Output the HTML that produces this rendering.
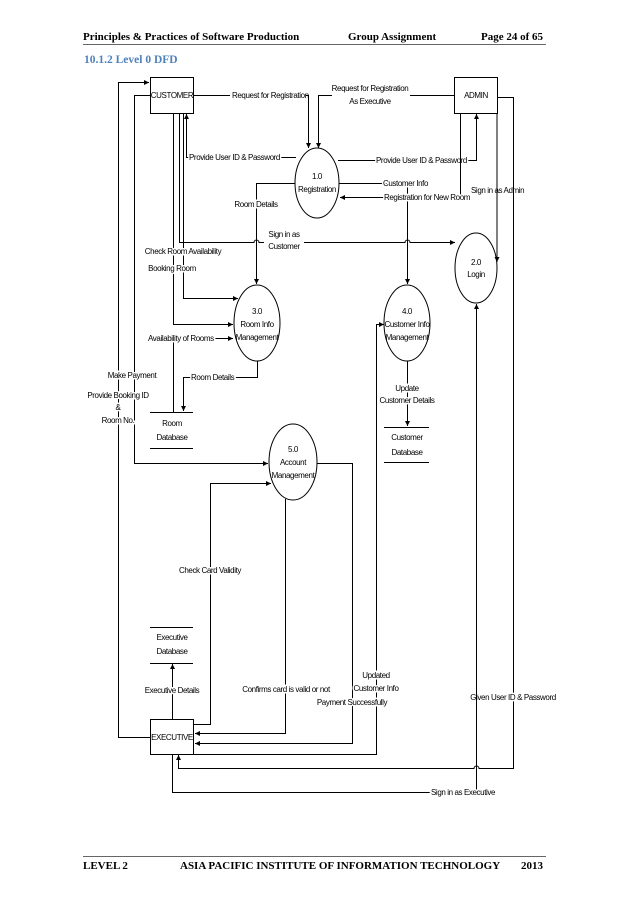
<!DOCTYPE html>
<html><head><meta charset="utf-8"><style>
html,body{margin:0;padding:0;background:#fff;}
svg{display:block;}
.h{font-family:"Liberation Serif",serif;font-weight:bold;font-size:11px;fill:#000;}
.t{font-family:"Liberation Sans",sans-serif;font-size:8px;fill:#000;letter-spacing:-0.4px;}
.l{stroke:#000;stroke-width:1;fill:none;}
</style></head><body>
<svg width="638" height="903" viewBox="0 0 638 903" xmlns="http://www.w3.org/2000/svg">
<defs><marker id="a" viewBox="0 0 10 10" refX="10" refY="5" markerWidth="5" markerHeight="5" orient="auto"><path d="M0,0 L10,5 L0,10 z" fill="#000"/></marker></defs>
<text class="h" x="83" y="40">Principles &amp; Practices of Software Production</text>
<text class="h" x="348" y="40">Group Assignment</text>
<text class="h" x="543" y="40" text-anchor="end">Page 24 of 65</text>
<line x1="83" y1="44.5" x2="546" y2="44.5" stroke="#666" stroke-width="1"/>
<text x="84" y="63" style="font-family:'Liberation Serif',serif;font-weight:bold;font-size:11.5px;fill:#4f81bd">10.1.2 Level 0 DFD</text>
<line x1="83" y1="856.5" x2="546" y2="856.5" stroke="#666" stroke-width="1"/>
<text class="h" x="83" y="869">LEVEL 2</text>
<text class="h" x="180" y="869">ASIA PACIFIC INSTITUTE OF INFORMATION TECHNOLOGY</text>
<text class="h" x="543" y="869" text-anchor="end">2013</text>

<g>
<rect class="l" x="150.5" y="77.5" width="43" height="36"/>
<text class="t" x="172" y="98" text-anchor="middle">CUSTOMER</text>
<rect class="l" x="454.5" y="77.5" width="43" height="36"/>
<text class="t" x="476" y="98" text-anchor="middle">ADMIN</text>
<rect class="l" x="150.5" y="719.5" width="43" height="35"/>
<text class="t" x="172" y="740" text-anchor="middle">EXECUTIVE</text>
<ellipse class="l" cx="317" cy="183" rx="22" ry="35"/>
<text class="t" x="317" y="179" text-anchor="middle">1.0</text>
<text class="t" x="317" y="192" text-anchor="middle">Registration</text>
<ellipse class="l" cx="476" cy="268" rx="21" ry="35"/>
<text class="t" x="476" y="265" text-anchor="middle">2.0</text>
<text class="t" x="476" y="277" text-anchor="middle">Login</text>
<ellipse class="l" cx="257" cy="323" rx="23" ry="38"/>
<text class="t" x="257" y="314" text-anchor="middle">3.0</text>
<text class="t" x="257" y="327" text-anchor="middle">Room Info</text>
<text class="t" x="257" y="340" text-anchor="middle">Management</text>
<ellipse class="l" cx="407" cy="323" rx="23" ry="38"/>
<text class="t" x="407" y="314" text-anchor="middle">4.0</text>
<text class="t" x="407" y="327" text-anchor="middle">Customer Info</text>
<text class="t" x="407" y="340" text-anchor="middle">Management</text>
<ellipse class="l" cx="293" cy="462" rx="24" ry="38"/>
<text class="t" x="293" y="452" text-anchor="middle">5.0</text>
<text class="t" x="293" y="465" text-anchor="middle">Account</text>
<text class="t" x="293" y="478" text-anchor="middle">Management</text>
<path class="l" d="M150,412.5H193M150,448.5H193"/>
<text class="t" x="172" y="426" text-anchor="middle">Room</text>
<text class="t" x="172" y="440" text-anchor="middle">Database</text>
<path class="l" d="M384,427.5H429M384,462.5H429"/>
<text class="t" x="407" y="440" text-anchor="middle">Customer</text>
<text class="t" x="407" y="455" text-anchor="middle">Database</text>
<path class="l" d="M150,627.5H193M150,663.5H193"/>
<text class="t" x="172" y="640" text-anchor="middle">Executive</text>
<text class="t" x="172" y="654" text-anchor="middle">Database</text>
<path class="l" d="M172.5,719V664" marker-end="url(#a)"/>
<text class="t" x="172" y="693" text-anchor="middle" style="paint-order:stroke" stroke="#fff" stroke-width="3">Executive Details</text>

<path class="l" d="M193,95.5H308.5V148" marker-end="url(#a)"/>
<path class="l" d="M454,95.5H318.5V148" marker-end="url(#a)"/>
<rect x="230" y="90" width="76" height="10" fill="#fff"/>
<text class="t" x="232" y="98">Request for Registration</text>
<rect x="332" y="82" width="78" height="22" fill="#fff"/>
<text class="t" x="370" y="91" text-anchor="middle">Request for Registration</text>
<text class="t" x="370" y="104" text-anchor="middle">As Executive</text>

<path class="l" d="M296,157.5H186.5V114" marker-end="url(#a)"/>
<text class="t" x="189" y="160" style="paint-order:stroke" stroke="#fff" stroke-width="3">Provide User ID &amp; Password</text>
<path class="l" d="M338,160.5H476.5V114" marker-end="url(#a)"/>
<text class="t" x="376" y="163" style="paint-order:stroke" stroke="#fff" stroke-width="3">Provide User ID &amp; Password</text>
<path class="l" d="M339,183.5H407.5V284" marker-end="url(#a)"/>
<text class="t" x="383" y="186" style="paint-order:stroke" stroke="#fff" stroke-width="3">Customer Info</text>
<path class="l" d="M460.5,114V197.5H340" marker-end="url(#a)"/>
<text class="t" x="384" y="200" style="paint-order:stroke" stroke="#fff" stroke-width="3">Registration for New Room</text>
<path class="l" d="M295,183.5H256.5V284" marker-end="url(#a)"/>
<text class="t" x="256" y="207" text-anchor="middle" style="paint-order:stroke" stroke="#fff" stroke-width="3">Room Details</text>
<path class="l" d="M497,114V262" marker-end="url(#a)"/>
<text class="t" x="471" y="193">Sign in as Admin</text>

<path class="l" d="M179.5,114V242.5H254a2.5,2.5 0 0 1 5,0H405a2.5,2.5 0 0 1 5,0H455" marker-end="url(#a)"/>
<rect x="264" y="229" width="40" height="22" fill="#fff"/>
<text class="t" x="284" y="237" text-anchor="middle">Sign in as</text>
<text class="t" x="284" y="249" text-anchor="middle">Customer</text>

<path class="l" d="M173.5,114V324.5H233" marker-end="url(#a)"/>
<path class="l" d="M183.5,114V298.5H238" marker-end="url(#a)"/>
<text class="t" x="183" y="254" text-anchor="middle" style="paint-order:stroke" stroke="#fff" stroke-width="3">Check Room Availability</text>
<text class="t" x="172" y="271" text-anchor="middle" style="paint-order:stroke" stroke="#fff" stroke-width="3">Booking Room</text>
<path class="l" d="M173.5,412V338.5H233" marker-end="url(#a)"/>
<text class="t" x="148" y="341" style="paint-order:stroke" stroke="#fff" stroke-width="3">Availability of Rooms</text>
<path class="l" d="M257.5,361V377.5H183.5V411" marker-end="url(#a)"/>
<text class="t" x="191" y="380" style="paint-order:stroke" stroke="#fff" stroke-width="3">Room Details</text>
<path class="l" d="M407.5,361V426" marker-end="url(#a)"/>
<text class="t" x="407" y="391" text-anchor="middle" style="paint-order:stroke" stroke="#fff" stroke-width="3">Update</text>
<text class="t" x="407" y="403" text-anchor="middle" style="paint-order:stroke" stroke="#fff" stroke-width="3">Customer Details</text>

<path class="l" d="M150,737.5H118.5V82.5H149" marker-end="url(#a)"/>
<path class="l" d="M150,95.5H134.5V463.5H268" marker-end="url(#a)"/>
<text class="t" x="132" y="378" text-anchor="middle" style="paint-order:stroke" stroke="#fff" stroke-width="3">Make Payment</text>
<text class="t" x="118" y="398" text-anchor="middle" style="paint-order:stroke" stroke="#fff" stroke-width="3">Provide Booking ID</text>
<text class="t" x="118" y="410" text-anchor="middle" style="paint-order:stroke" stroke="#fff" stroke-width="3">&amp;</text>
<text class="t" x="118" y="423" text-anchor="middle" style="paint-order:stroke" stroke="#fff" stroke-width="3">Room No.</text>

<path class="l" d="M194,724.5H210.5V483.5H271" marker-end="url(#a)"/>
<text class="t" x="210" y="573" text-anchor="middle" style="paint-order:stroke" stroke="#fff" stroke-width="3">Check Card Validity</text>
<path class="l" d="M285.5,499V733.5H195" marker-end="url(#a)"/>
<text class="t" x="286" y="692" text-anchor="middle" style="paint-order:stroke" stroke="#fff" stroke-width="3">Confirms card is valid or not</text>
<path class="l" d="M317,463.5H352.5V743.5H195" marker-end="url(#a)"/>
<path class="l" d="M194,754.5H376.5V324.5H384" marker-end="url(#a)"/>
<text class="t" x="376" y="678" text-anchor="middle" style="paint-order:stroke" stroke="#fff" stroke-width="3">Updated</text>
<text class="t" x="376" y="691" text-anchor="middle" style="paint-order:stroke" stroke="#fff" stroke-width="3">Customer Info</text>
<text class="t" x="352" y="705" text-anchor="middle" style="paint-order:stroke" stroke="#fff" stroke-width="3">Payment Successfully</text>

<path class="l" d="M497,97.5H513.5V768.5H479a2.5,2.5 0 0 0 -5,0H178.5V755" marker-end="url(#a)"/>
<text class="t" x="513" y="700" text-anchor="middle" style="paint-order:stroke" stroke="#fff" stroke-width="3">Given User ID &amp; Password</text>
<path class="l" d="M172.5,755V792.5H476.5V304" marker-end="url(#a)"/>
<text class="t" x="431" y="795" style="paint-order:stroke" stroke="#fff" stroke-width="3">Sign in as Executive</text>
</g>
</svg>
</body></html>
